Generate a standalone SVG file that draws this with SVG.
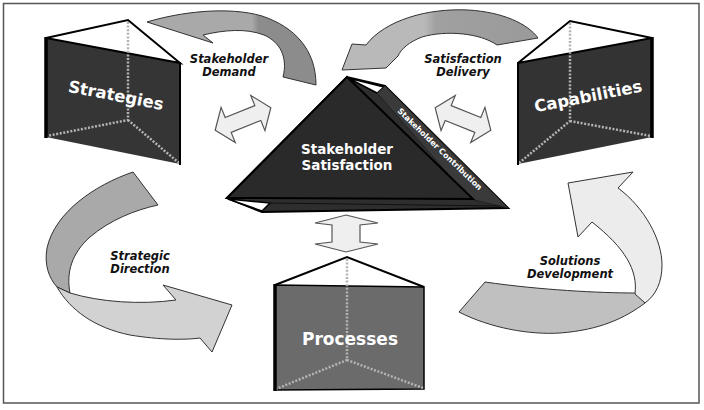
<svg xmlns="http://www.w3.org/2000/svg" width="704" height="410" viewBox="0 0 704 410">
<defs>
<style>
.lbl{font-family:"DejaVu Sans","Liberation Sans",sans-serif;font-weight:bold;font-style:italic;font-size:11.5px;fill:#111;text-anchor:middle}
.big{font-family:"DejaVu Sans","Liberation Sans",sans-serif;font-weight:bold;fill:#fff;text-anchor:middle}
.hid{fill:none;stroke:#b4b4b4;stroke-width:2.5;stroke-dasharray:2 1.6}
.edge{stroke:#000;stroke-width:2;stroke-linejoin:miter}
.dbl{fill:#efefef;stroke:#555;stroke-width:1.2;stroke-linejoin:miter}
.curve{stroke:#333;stroke-width:1;stroke-linejoin:miter}
</style>
<linearGradient id="g1" x1="0" y1="0" x2="1" y2="0">
<stop offset="0" stop-color="#a9a9a9"/><stop offset="0.62" stop-color="#a9a9a9"/><stop offset="0.66" stop-color="#8c8c8c"/><stop offset="1" stop-color="#8c8c8c"/>
</linearGradient>
<linearGradient id="g2" x1="0" y1="0" x2="1" y2="0">
<stop offset="0" stop-color="#b9b9b9"/><stop offset="0.42" stop-color="#b9b9b9"/><stop offset="0.48" stop-color="#a0a0a0"/><stop offset="1" stop-color="#9a9a9a"/>
</linearGradient>
</defs>
<rect x="0" y="0" width="704" height="410" fill="#fff"/>
<rect x="3.5" y="3.5" width="695.5" height="399.5" fill="#fff" stroke="#555" stroke-width="1.5"/>

<g id="connectors">
<g id="arrow-stakeholder-demand">
<path class="curve" fill="url(#g1)" d="M147,22 C180,12 228,6 262,16 C295,27 316,50 316,85 L283,77 C288,57 280,42 264,35 C246,28 224,30 203,35 L213,43 Z"/>
</g>
<g id="arrow-satisfaction-delivery">
<path class="curve" fill="url(#g2)" d="M342,70 L352,44 L366,45 C385,20 428,8 468,10 C503,12 528,24 538,38 L497,45 C480,33 446,30 422,37 C409,42 401,49 398,56 L386,68 Z"/>
</g>
<g id="arrow-strategic-direction">
<path class="curve" fill="#a9a9a9" d="M133,172 C95,185 55,212 47,248 C44,265 49,278 57,287 L70,293 C66,272 72,253 90,237 C110,220 135,210 158,205 Z"/>
<path class="curve" fill="#d2d2d2" d="M57,287 C70,310 95,328 130,335 C160,340 185,340 200,338 L212,352 L232,305 L163,285 L176,300 C140,305 100,302 70,293 Z"/>
</g>
<g id="arrow-solutions-development">
<path class="curve" fill="#c0c0c0" d="M635,293 C600,293 540,290 485,282 L459,312 C490,328 530,335 560,333 C600,330 625,318 645,303 Z"/>
<path class="curve" fill="#ececec" d="M568,183 L633,172 L618,188 C645,208 662,240 662,265 C662,282 656,295 645,303 L635,294 C638,270 625,248 592,222 L578,237 Z"/>
</g>
<g id="dbl-left" transform="translate(243,119) rotate(-22)">
<path class="dbl" d="M-30,0 L-16,-19 L-16,-8 L16,-8 L16,-19 L30,0 L16,19 L16,8 L-16,8 L-16,19 Z"/>
</g>
<g id="dbl-right" transform="translate(463,119) rotate(22)">
<path class="dbl" d="M-30,0 L-16,-19 L-16,-8 L16,-8 L16,-19 L30,0 L16,19 L16,8 L-16,8 L-16,19 Z"/>
</g>
<g id="dbl-down">
<path class="dbl" d="M346,215 L378,223 L360,225 L360,242 L378,244 L346,252 L315,244 L332,242 L332,225 L315,223 Z"/>
</g>
</g>

<g id="node-strategies">
<polygon points="46,38 180,63 180,164 46,137" fill="#353535"/>
<polygon points="46,38 128,20 180,63" fill="#fff" class="edge"/>
<path class="hid" d="M128,22 V120 L47,136 M128,120 L179,163"/>
<line x1="46" y1="37" x2="46" y2="138" stroke="#000" stroke-width="3.5"/>
<line x1="180" y1="62" x2="180" y2="165" stroke="#000" stroke-width="2"/>
<text class="big" font-size="16.5" transform="translate(116,95) rotate(11)" y="6">Strategies</text>
</g>

<g id="node-capabilities">
<polygon points="518,63 652,38 652,137 518,164" fill="#333"/>
<polygon points="518,63 570,21 652,38" fill="#fff" class="edge"/>
<path class="hid" d="M570,23 V121 L519,163 M570,121 L651,136"/>
<line x1="652" y1="37" x2="652" y2="138" stroke="#000" stroke-width="3.5"/>
<line x1="518" y1="62" x2="518" y2="165" stroke="#000" stroke-width="2"/>
<text class="big" font-size="16.5" transform="translate(588,96) rotate(-11)" y="6">Capabilities</text>
</g>

<g id="node-stakeholder-satisfaction">
<polygon points="227,198 262,212 508,208 385,86 347,77" fill="#2e2e2e" class="edge"/>
<polygon points="348,78 384,87 377,93" fill="#fff" stroke="#000" stroke-width="1.5"/>
<polygon points="228,199 262,211 270,203" fill="#fff" stroke="#000" stroke-width="1.5"/>
<polygon points="377,93 385,86 508,208 470,199" fill="#3a3a3a" stroke="#222" stroke-width="1"/>
<polygon points="347,77 227,198 473,199" fill="#2a2a2a" class="edge"/>
<line x1="270" y1="203" x2="500" y2="206" stroke="#111" stroke-width="1"/>
<text class="big" font-size="13.5"><tspan x="347" y="154">Stakeholder</tspan><tspan x="347" y="170">Satisfaction</tspan></text>
<text class="big" font-size="8" transform="translate(440,149) rotate(44)" y="3">Stakeholder Contribution</text>
</g>

<g id="node-processes">
<polygon points="275,285 424,287 424,389 275,390" fill="#6b6b6b" stroke="#000" stroke-width="1.5"/>
<polyline points="275,285 347,257 424,287" fill="none" stroke="#000" stroke-width="2"/>
<path class="hid" d="M347,259 V360 L276,389 M347,360 L423,388"/>
<line x1="275" y1="284" x2="275" y2="391" stroke="#000" stroke-width="3.5"/>
<text class="big" font-size="17" x="350" y="345">Processes</text>
</g>

<g id="labels">
<text class="lbl"><tspan x="229" y="63">Stakeholder</tspan><tspan x="229" y="76">Demand</tspan></text>
<text class="lbl"><tspan x="463" y="63">Satisfaction</tspan><tspan x="463" y="76">Delivery</tspan></text>
<text class="lbl"><tspan x="140" y="260">Strategic</tspan><tspan x="140" y="273">Direction</tspan></text>
<text class="lbl"><tspan x="570" y="265">Solutions</tspan><tspan x="570" y="278">Development</tspan></text>
</g>
</svg>
